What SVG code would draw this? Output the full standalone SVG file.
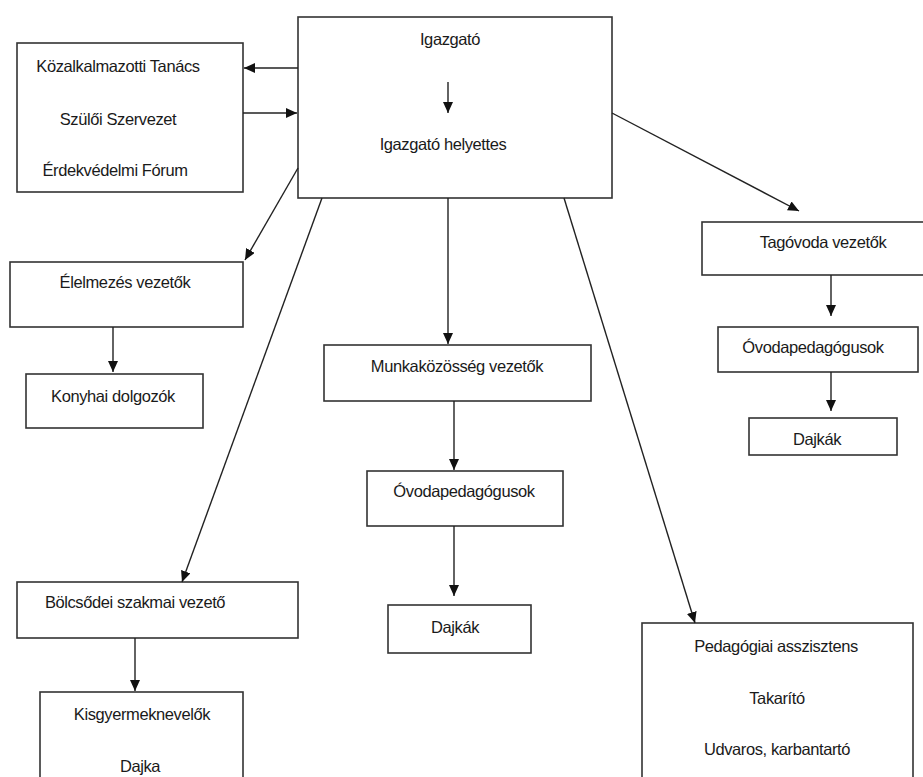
<svg xmlns="http://www.w3.org/2000/svg" width="923" height="777" viewBox="0 0 923 777">
<defs>
<marker id="ah" markerUnits="userSpaceOnUse" markerWidth="12" markerHeight="10" refX="11" refY="5" orient="auto">
<path d="M0,0 L11,5 L0,10 z" fill="#111"/>
</marker>
<style>
.box{fill:#fff;stroke:#333;stroke-width:1.6}
.t{font-family:"Liberation Sans",Arial,sans-serif;font-size:16.5px;letter-spacing:-0.4px;fill:#1a1a1a;text-anchor:middle}
.c{stroke:#222;stroke-width:1.4;fill:none;marker-end:url(#ah)}
</style>
</defs>
<rect width="923" height="777" fill="#fff"/>

<g id="n-top">
<rect class="box" x="298" y="17" width="314" height="181"/>
<text class="t" x="450" y="45">Igazgató</text>
<text class="t" x="443" y="150">Igazgató helyettes</text>
</g>
<g id="n-left">
<rect class="box" x="17" y="43" width="226" height="149"/>
<text class="t" x="118" y="72">Közalkalmazotti Tanács</text>
<text class="t" x="118" y="125">Szülői Szervezet</text>
<text class="t" x="115" y="176">Érdekvédelmi Fórum</text>
</g>
<g id="n-elelmezes">
<rect class="box" x="10" y="262" width="233" height="65"/>
<text class="t" x="125" y="288">Élelmezés vezetők</text>
</g>
<g id="n-konyhai">
<rect class="box" x="26" y="374" width="177" height="54"/>
<text class="t" x="113" y="402">Konyhai dolgozók</text>
</g>
<g id="n-munka">
<rect class="box" x="324" y="345" width="267" height="56"/>
<text class="t" x="457" y="372">Munkaközösség vezetők</text>
</g>
<g id="n-ovoda-mid">
<rect class="box" x="367" y="471" width="196" height="55"/>
<text class="t" x="464" y="497">Óvodapedagógusok</text>
</g>
<g id="n-dajkak-mid">
<rect class="box" x="388" y="605" width="143" height="48"/>
<text class="t" x="455" y="633">Dajkák</text>
</g>
<g id="n-tagovoda">
<rect class="box" x="702" y="222" width="225" height="53"/>
<text class="t" x="823" y="248">Tagóvoda vezetők</text>
</g>
<g id="n-ovoda-right">
<rect class="box" x="718" y="327" width="200" height="45"/>
<text class="t" x="813" y="353">Óvodapedagógusok</text>
</g>
<g id="n-dajkak-right">
<rect class="box" x="749" y="418" width="148" height="37"/>
<text class="t" x="817" y="445">Dajkák</text>
</g>
<g id="n-bolcsode">
<rect class="box" x="17" y="582" width="281" height="56"/>
<text class="t" x="135" y="608">Bölcsődei szakmai vezető</text>
</g>
<g id="n-kisgyermek">
<rect class="box" x="40" y="692" width="203" height="100"/>
<text class="t" x="142" y="720">Kisgyermeknevelők</text>
<text class="t" x="140" y="772">Dajka</text>
</g>
<g id="n-pedasszisztens">
<rect class="box" x="642" y="623" width="271" height="170"/>
<text class="t" x="776" y="652">Pedagógiai asszisztens</text>
<text class="t" x="777" y="704">Takarító</text>
<text class="t" x="777" y="755">Udvaros, karbantartó</text>
</g>

<g id="connectors">
<line class="c" x1="298" y1="68" x2="244" y2="68"/>
<line class="c" x1="243" y1="113" x2="297" y2="113"/>
<line class="c" x1="448" y1="82" x2="448" y2="113"/>
<line class="c" x1="298" y1="168" x2="245" y2="260"/>
<line class="c" x1="322" y1="198" x2="182" y2="582"/>
<line class="c" x1="448" y1="198" x2="448" y2="344"/>
<line class="c" x1="564" y1="198" x2="695" y2="623"/>
<line class="c" x1="612" y1="113" x2="799" y2="211"/>
<line class="c" x1="113" y1="327" x2="113" y2="372"/>
<line class="c" x1="454" y1="401" x2="454" y2="470"/>
<line class="c" x1="454" y1="526" x2="454" y2="596"/>
<line class="c" x1="831" y1="275" x2="831" y2="316"/>
<line class="c" x1="831" y1="372" x2="831" y2="411"/>
<line class="c" x1="135" y1="638" x2="135" y2="691"/>
</g>
</svg>
